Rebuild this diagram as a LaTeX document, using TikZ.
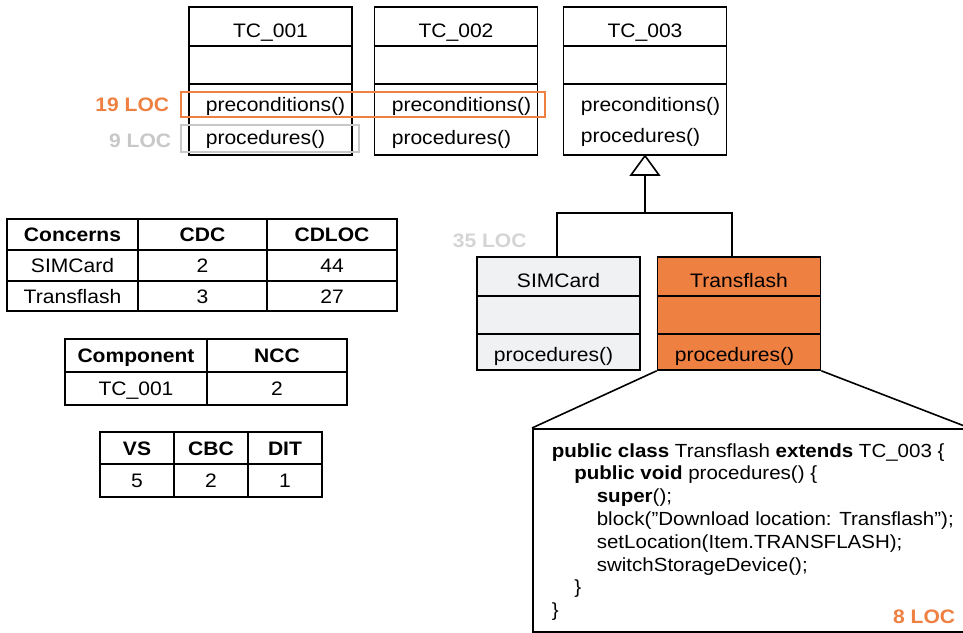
\documentclass[tikz,border=0pt]{standalone}
\usepackage{fontspec}
\setmainfont{Liberation Sans}[FakeStretch=1.08]
\usetikzlibrary{calc}
\definecolor{accent}{RGB}{238,128,66}
\definecolor{lightfill}{RGB}{240,241,243}
\definecolor{softgray}{RGB}{200,200,200}
\definecolor{palegray}{RGB}{212,212,212}
\begin{document}
\begin{tikzpicture}[x=1pt,y=-1pt,
  font=\fontsize{19.5}{23}\selectfont,
  line width=1.6pt,
  cls/.style={draw, line width=1.6pt, minimum width=163pt, inner sep=0pt},
  txt/.style={inner sep=0pt},
  codetxt/.style={inner sep=0pt, font=\fontsize{19}{23}\selectfont},
  cell/.style={draw, line width=1.6pt, inner sep=0pt, text height=14pt, text depth=0pt},
  hl/.style={draw, line width=2.8pt},
  loc/.style={inner sep=0pt, font=\fontsize{19.5}{23}\selectfont\bfseries}]
\useasboundingbox (0,0) rectangle (963,632);

% ---------- test case classes ----------
\node[cls, minimum height=148pt] (tc1) at (270.5,81) {};
\node[cls, minimum height=148pt] (tc2) at (456,81) {};
\node[cls, minimum height=148pt] (tc3) at (645,81) {};
\node[cls, minimum height=113pt, fill=lightfill] (sim) at (558.5,313.5) {};
\node[cls, minimum height=113pt, fill=accent] (tf) at (739,313.5) {};

\foreach \n in {tc1,tc2,tc3,sim,tf}
  \foreach \d in {40,78}
    \draw ($(\n.north west)+(0,\d)$) -- ($(\n.north east)+(0,\d)$);

% class names
\node[txt, anchor=base] (tc1name) at (270.5,37) {TC\_001};
\node[txt, anchor=base] (tc2name) at (456,37) {TC\_002};
\node[txt, anchor=base] (tc3name) at (645,37) {TC\_003};
\node[txt, anchor=base] (simname) at (558.5,287) {SIMCard};
\node[txt, anchor=base] (tfname) at (739,287) {Transflash};

% operations
\node[txt, anchor=base west] (tc1pre) at (205,111) {preconditions()};
\node[txt, anchor=base west] (tc1proc) at (205,144) {procedures()};
\node[txt, anchor=base west] (tc2pre) at (391,111) {preconditions()};
\node[txt, anchor=base west] (tc2proc) at (391,144) {procedures()};
\node[txt, anchor=base west] (tc3pre) at (580,111) {preconditions()};
\node[txt, anchor=base west] (tc3proc) at (580,142) {procedures()};
\node[txt, anchor=base west] (simproc) at (493,361) {procedures()};
\node[txt, anchor=base west] (tfproc) at (674,361) {procedures()};

% highlighted regions and their sizes
\node[hl, draw=accent, minimum width=364pt, minimum height=25pt, inner sep=0pt] (hlpre) at (363,104.5) {};
\node[hl, draw=softgray, minimum width=178pt, minimum height=27pt, inner sep=0pt] (hlproc) at (270,138.5) {};
\node[loc, text=accent, anchor=base east] (loc19) at (170,111) {19 LOC};
\node[loc, text=softgray, anchor=base east] (loc9) at (172,147) {9 LOC};
\node[loc, text=palegray, anchor=base west] (loc35) at (452,247) {35 LOC};

% generalisation
\coordinate (tribase) at (645,175);
\draw[fill=white] (tc3.south) -- ($(tribase)+(-14,0)$) -- ($(tribase)+(14,0)$) -- cycle;
\coordinate (fork) at (645,213);
\draw (tribase) -- (fork);
\draw (fork) -| ($(sim.north)+(-1.5,0)$);
\draw (fork) -| ($(tf.north)+(-7,0)$);

% ---------- metric tables ----------
\node[cell, minimum width=131pt, minimum height=31pt, font=\fontsize{19.5}{23}\selectfont\bfseries] (t1a) at (72.5,234.5) {Concerns};
\node[cell, minimum width=129pt, minimum height=31pt, font=\fontsize{19.5}{23}\selectfont\bfseries] (t1b) at (202.5,234.5) {CDC};
\node[cell, minimum width=130pt, minimum height=31pt, font=\fontsize{19.5}{23}\selectfont\bfseries] (t1c) at (332,234.5) {CDLOC};
\node[cell, minimum width=131pt, minimum height=31pt] (t1d) at (72.5,265.5) {SIMCard};
\node[cell, minimum width=129pt, minimum height=31pt] (t1e) at (202.5,265.5) {2};
\node[cell, minimum width=130pt, minimum height=31pt] (t1f) at (332,265.5) {44};
\node[cell, minimum width=131pt, minimum height=30pt] (t1g) at (72.5,296) {Transflash};
\node[cell, minimum width=129pt, minimum height=30pt] (t1h) at (202.5,296) {3};
\node[cell, minimum width=130pt, minimum height=30pt] (t1i) at (332,296) {27};

\node[cell, minimum width=142pt, minimum height=33pt, font=\fontsize{19.5}{23}\selectfont\bfseries] (t2a) at (136,355.5) {Component};
\node[cell, minimum width=140pt, minimum height=33pt, font=\fontsize{19.5}{23}\selectfont\bfseries] (t2b) at (277,355.5) {NCC};
\node[cell, minimum width=142pt, minimum height=33pt] (t2c) at (136,388.5) {TC\_001};
\node[cell, minimum width=140pt, minimum height=33pt] (t2d) at (277,388.5) {2};

\node[cell, minimum width=74pt, minimum height=32pt, font=\fontsize{19.5}{23}\selectfont\bfseries] (t3a) at (137,448) {VS};
\node[cell, minimum width=74pt, minimum height=32pt, font=\fontsize{19.5}{23}\selectfont\bfseries] (t3b) at (211,448) {CBC};
\node[cell, minimum width=74pt, minimum height=32pt, font=\fontsize{19.5}{23}\selectfont\bfseries] (t3c) at (285,448) {DIT};
\node[cell, minimum width=74pt, minimum height=33pt] (t3d) at (137,480.5) {5};
\node[cell, minimum width=74pt, minimum height=33pt] (t3e) at (211,480.5) {2};
\node[cell, minimum width=74pt, minimum height=33pt] (t3f) at (285,480.5) {1};

% ---------- code of Transflash.procedures() ----------
\node[draw, line width=1.6pt, fill=white, minimum width=436pt, minimum height=203pt, inner sep=0pt, anchor=north west] (code) at (532,428) {};
\draw (tf.south west) -- (code.north west);
\draw (tf.south east) -- (code.north east);

\node[codetxt, anchor=base west] (c1) at (551,457) {\textbf{public class} Transflash \textbf{extends} TC\_003 \{};
\node[codetxt, anchor=base west] (c2) at (573.5,479.5) {\textbf{public void} procedures() \{};
\node[codetxt, anchor=base west] (c3) at (596,502) {\textbf{super}();};
\node[codetxt, anchor=base west] (c4) at (596,525) {block(”Download location: Transflash”);};
\node[codetxt, anchor=base west] (c5) at (596,548) {setLocation(Item.TRANSFLASH);};
\node[codetxt, anchor=base west] (c6) at (596,571) {switchStorageDevice();};
\node[codetxt, anchor=base west] (c7) at (573.5,593) {\}};
\node[codetxt, anchor=base west] (c8) at (551,616) {\}};
\node[loc, text=accent, anchor=base east] (loc8) at (956,623) {8 LOC};
\end{tikzpicture}
\end{document}
